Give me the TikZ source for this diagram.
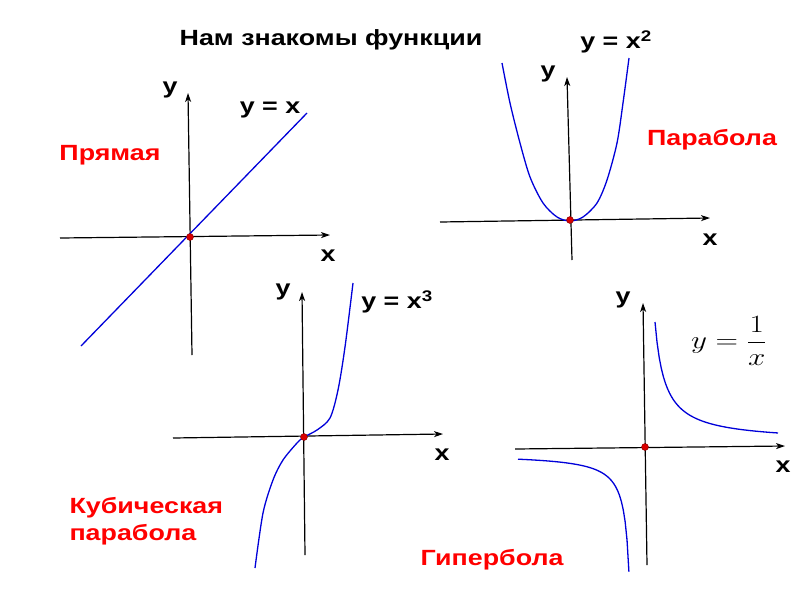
\documentclass[tikz,border=0pt]{standalone}
\usepackage{fontspec}
\setmainfont[FakeStretch=1.22]{Liberation Sans}
\usetikzlibrary{arrows.meta}

\begin{document}
\begin{tikzpicture}[
    x=1pt, y=-1pt,
    >={Stealth[length=9pt,width=6pt,inset=2.5pt]},
    every node/.style={font=\fontsize{22}{27}\selectfont\bfseries},
    axis/.style={->, line width=1.2pt, black},
    graph/.style={line width=1.3pt, blue!85!black},
    fnname/.style={text=red},
    origin/.style={
        circle,
        fill=red!85!black,
        draw=red!50!black,
        inner sep=0pt,
        minimum size=7pt
    }
]

    \useasboundingbox (0,0) rectangle (800,600);

    \node (title) at (331,40) {Нам знакомы функции};

    % Line y = x
    \draw[axis] (60,238) -- (330,235);
    \draw[axis] (192,355) -- (188,93);
    \draw[graph] (81,346) -- (307,113);
    \node[origin] (o1) at (190,237) {};
    \node (y1) at (170,90) {y};
    \node (x1) at (328,256) {x};
    \node (f1) at (270,110) {y = x};
    \node[fnname] (n1) at (110,155) {Прямая};

    % Parabola y = x^2
    \draw[axis] (440,222) -- (710,218);
    \draw[axis] (572,260) -- (567,77);
    \draw[graph] plot[smooth] coordinates {
        (502,63) (510,103) (520,143) (530,177) (543,203) (557,217) (570,221)
        (583,217) (597,203) (607,180) (617,143) (623,103) (629,58)};
    \node[origin] (o2) at (570,220) {};
    \node (y2) at (548,74) {y};
    \node (x2) at (710,240) {x};
    \node (f2) at (616,42) {y = x\textsuperscript{2}};
    \node[fnname] (n2) at (712,140) {Парабола};

    % Cubic parabola y = x^3
    \draw[axis] (173,438) -- (443,434);
    \draw[axis] (305,555) -- (302,292);
    \draw[graph] plot[smooth] coordinates {
        (255,568) (263,513) (273,480) (283,460) (297,443) (304,437)
        (317,430) (330,418) (338,390) (345,347) (353,283)};
    \node[origin] (o3) at (304,437) {};
    \node (y3) at (283,292) {y};
    \node (x3) at (442,455) {x};
    \node (f3) at (397,302) {y = x\textsuperscript{3}};
    \node[fnname, align=left, anchor=west] (n3) at (66,521)
        {Кубическая\\парабола};

    % Hyperbola y = 1/x
    \draw[axis] (515,449) -- (785,446);
    \draw[axis] (647,565) -- (643,303);
    \draw[graph, domain=10:133, samples=60]
        plot ({645+\x}, {442-1200/\x});
    \draw[graph, domain=16.1:127, samples=60]
        plot ({645-\x}, {454+600/(\x-11)});
    \node[origin] (o4) at (645,447) {};
    \node (y4) at (623,300) {y};
    \node (x4) at (783,467) {x};
    \node[font=\fontsize{35}{40}\selectfont] (f4) at (729,341)
        {\scalebox{1.25}[1]{$y=\displaystyle\frac{1}{x}$}};
    \node[fnname] (n4) at (492,560) {Гипербола};

\end{tikzpicture}
\end{document}
